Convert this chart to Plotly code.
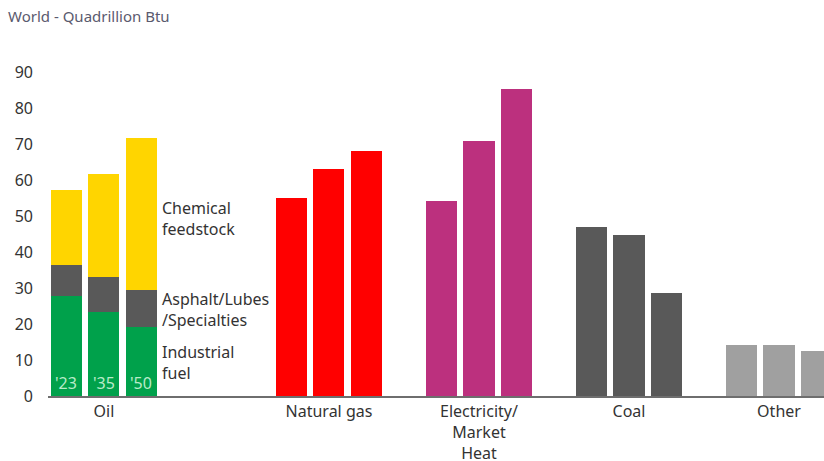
import plotly.graph_objects as go

# ---- data ----
categories = ["Oil", "Natural gas", "Electricity/<br>Market<br>Heat", "Coal", "Other"]
category_pos = [0, 1.5, 2.5, 3.5, 4.5]
years = ["'23", "'35", "'50"]
year_offset = [-0.25, 0, 0.25]

oil_industrial = [27.7, 23.3, 19.1]
oil_asphalt = [8.6, 9.7, 10.3]
oil_chemical = [20.9, 28.7, 42.4]
natural_gas = [54.9, 63.1, 68.0]
electricity = [54.1, 70.8, 85.2]
coal = [46.9, 44.8, 28.5]
other = [14.2, 14.2, 12.5]

y_ticks = [0, 10, 20, 30, 40, 50, 60, 70, 80, 90]

FONT = "Noto Sans"
BAR_W = 0.207

def xs(pos):
    return [pos + o for o in year_offset]

fig = go.Figure()

def add(pos, vals, color, name):
    fig.add_trace(go.Bar(x=xs(pos), y=vals, width=BAR_W, marker=dict(color=color, line=dict(width=0)),
                         name=name, showlegend=False, hoverinfo="y"))

add(category_pos[0], oil_industrial, "#00A14B", "Industrial fuel")
add(category_pos[0], oil_asphalt, "#595959", "Asphalt/Lubes/Specialties")
add(category_pos[0], oil_chemical, "#FFD500", "Chemical feedstock")
add(category_pos[1], natural_gas, "#FF0000", "Natural gas")
add(category_pos[2], electricity, "#BC307E", "Electricity/Market Heat")
add(category_pos[3], coal, "#595959", "Coal")
add(category_pos[4], other, "#A0A0A0", "Other")

annotations = []
for x, yl in zip(xs(category_pos[0]), years):
    annotations.append(dict(x=x, y=3.6, xref="x", yref="y", text=yl, showarrow=False,
                            font=dict(family=FONT, size=16, color="#B8EBC8"), xanchor="center", yanchor="middle"))

labels = [("Chemical<br>feedstock", 49.4), ("Asphalt/Lubes<br>/Specialties", 23.9), ("Industrial<br>fuel", 9.4)]
for t, y in labels:
    annotations.append(dict(x=0.375, y=y, xref="x", yref="y", text=t, showarrow=False, align="left",
                            font=dict(family=FONT, size=16, color="#333333"), xanchor="left", yanchor="middle"))

fig.update_layout(
    width=824, height=461,
    margin=dict(l=48, r=0, t=36, b=65),
    paper_bgcolor="white", plot_bgcolor="white",
    barmode="stack",
    title=dict(text="World - Quadrillion Btu", x=8/824, xref="container", xanchor="left",
               y=1 - 17/461, yref="container", yanchor="middle",
               font=dict(family=FONT, size=15, color="#5A5A6E")),
    annotations=annotations,
    xaxis=dict(range=[-0.373, 4.8], tickvals=category_pos, ticktext=categories, automargin=False,
               showgrid=False, zeroline=False, showline=True, linecolor="#6E6E6E", linewidth=1.5,
               ticks="", tickfont=dict(family=FONT, size=16, color="#333333")),
    yaxis=dict(range=[0, 100], tickvals=y_ticks, showgrid=False, zeroline=False, showline=False,
               automargin=False, ticks="", ticklabelstandoff=14,
               tickfont=dict(family=FONT, size=16, color="#333333")),
)

fig.write_html("out.html")
